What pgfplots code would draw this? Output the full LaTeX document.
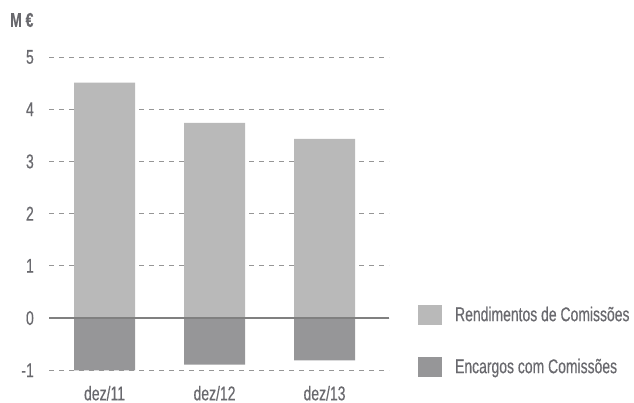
\documentclass[border=0pt]{standalone}
\usepackage{fontspec}
\setmainfont{Liberation Sans}[FakeStretch=0.7, FakeBold=0.4]
\usepackage{pgfplots}
\pgfplotsset{compat=1.18}
\definecolor{lightbar}{RGB}{185,185,185}
\definecolor{darkbar}{RGB}{150,150,152}
\definecolor{txt}{RGB}{105,105,110}
\definecolor{gridc}{RGB}{150,150,150}
\begin{document}
\begin{tikzpicture}
\path[use as bounding box] (0,0) rectangle (634bp,403bp);
\begin{axis}[
  at={(49bp,32.7bp)}, anchor=south west,
  scale only axis, width=340bp, height=313.3bp,
  xmin=-0.505, xmax=2.586, ymin=-1, ymax=5,
  axis line style={draw=none},
  ytick={-1,0,1,2,3,4,5},
  xtick={0,1,2}, xticklabels={dez/11,dez/12,dez/13},
  ymajorgrids, grid style={gridc, line width=0.8pt, dash pattern=on 5bp off 5bp},
  major tick length=0pt,
  tick label style={font=\fontsize{20}{22}\selectfont, text=txt},
  /pgf/number format/assume math mode=true,
  yticklabel style={anchor=east, inner sep=0pt, xshift=-15bp},
  xticklabel style={anchor=base, inner sep=0pt, yshift=-30bp},
  ybar, bar width=0.555, bar shift=0pt,
  legend style={at={(1.085,0.21)}, anchor=north west, draw=none, fill=none,
    inner sep=0pt, row sep=32bp, font=\fontsize{20}{22}\selectfont, text=txt,
    legend cell align=left},
  legend image code/.code={\fill[#1] (0bp,-10bp) rectangle (24bp,10bp);},
]
\addplot[fill=lightbar, draw=none] coordinates {(0,4.51) (1,3.74) (2,3.43)};
\addlegendentry{\hspace*{11bp}Rendimentos de Comissões}
\addplot[fill=darkbar, draw=none] coordinates {(0,-1.0) (1,-0.89) (2,-0.81)};
\addlegendentry{\hspace*{11bp}Encargos com Comissões}
\addplot[sharp plot, draw=gray, line width=1.2pt, forget plot] coordinates {(-0.505,0) (2.586,0)};
\end{axis}
\node[font=\bfseries\fontsize{20}{22}\selectfont, text=txt, anchor=west, inner sep=0pt] at (10bp,383bp) {M €};
\end{tikzpicture}
\end{document}
